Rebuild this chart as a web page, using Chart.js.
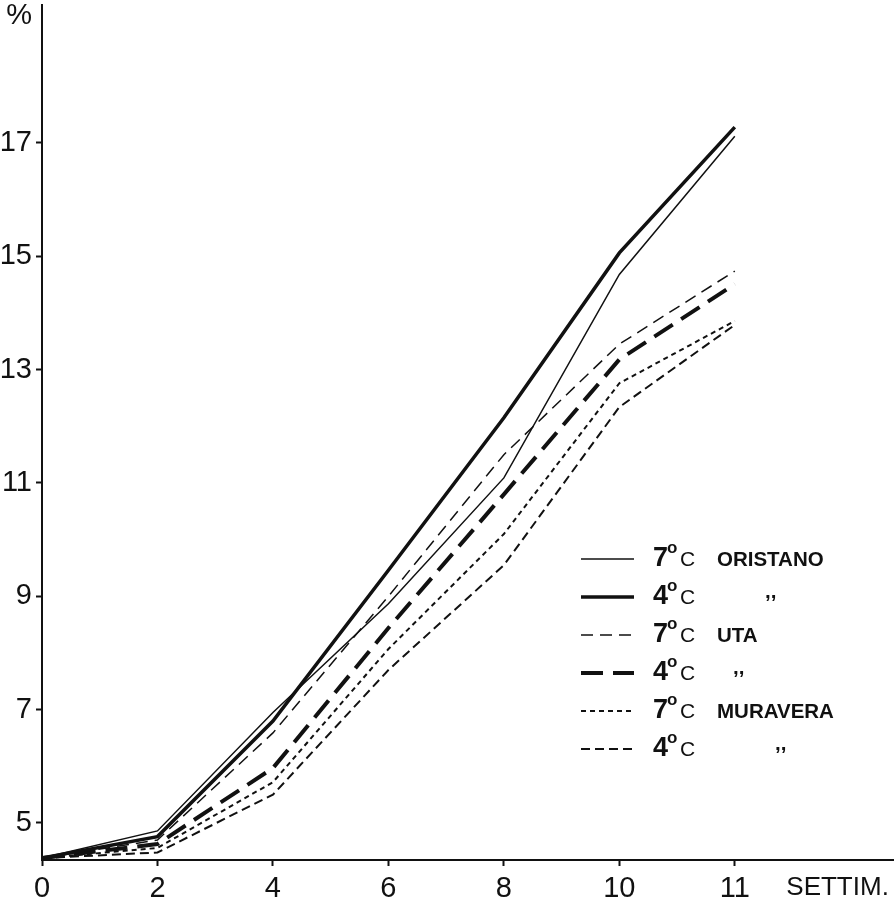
<!DOCTYPE html>
<html>
<head>
<meta charset="utf-8">
<script src="https://cdn.jsdelivr.net/npm/chart.js@4.4.1/dist/chart.umd.min.js"></script>
<style>
  html, body { margin: 0; padding: 0; background: #fff; }
  #wrap { width: 895px; height: 906px; }
</style>
</head>
<body>
<div id="wrap"><canvas id="chart"></canvas></div>
<script>
// week labels (equally spaced on the axis, as in the original)
const weeks = ['0', '2', '4', '6', '8', '10', '11'];
const yTicks = [5, 7, 9, 11, 13, 15, 17];

// % values
const oristano7 = [4.38, 4.86, 6.95, 8.87, 11.09, 14.68, 17.12];
const oristano4 = [4.38, 4.76, 6.80, 9.46, 12.15, 15.06, 17.28];
const uta7 = [4.38, 4.70, 6.59, 9.00, 11.50, 13.45, 14.74];
const uta4 = [4.38, 4.63, 5.97, 8.44, 10.80, 13.18, 14.51];
const muravera7 = [4.38, 4.56, 5.72, 8.07, 10.10, 12.76, 13.86];
const muravera4 = [4.38, 4.48, 5.50, 7.70, 9.55, 12.34, 13.79];

const temps = ['7', '4', '7', '4', '7', '4'];
const sites = ['ORISTANO', ',,', 'UTA', ',,', 'MURAVERA', ',,'];

const INK = '#111';
const FONT = "'Liberation Sans', Arial, Helvetica, sans-serif";

function toPoints(arr) {
    return arr.map((v, i) => ({ x: i, y: v }));
}

function makeSet(label, arr, width, dash) {
    return {
        label: label,
        data: toPoints(arr),
        borderColor: INK,
        borderWidth: width,
        borderDash: dash,
        pointRadius: 0,
        tension: 0,
        fill: false
    };
}

// legend drawn inside the plot, lower right
const sideLegend = {
    id: 'sideLegend',
    afterDraw(chart) {
        const ctx = chart.ctx;
        const dittoX = [0, 765, 0, 733, 0, 775];
        ctx.save();
        chart.data.datasets.forEach((ds, i) => {
            const y = 559 + i * 38;
            ctx.strokeStyle = INK;
            ctx.lineWidth = ds.borderWidth;
            ctx.setLineDash(ds.borderDash || []);
            ctx.beginPath();
            ctx.moveTo(581, y);
            ctx.lineTo(634, y);
            ctx.stroke();
            ctx.setLineDash([]);

            ctx.fillStyle = INK;
            ctx.textAlign = 'left';
            ctx.textBaseline = 'alphabetic';
            ctx.font = 'bold 27px ' + FONT;
            ctx.fillText(temps[i], 653, y + 7);
            ctx.font = 'bold 17px ' + FONT;
            ctx.fillText('o', 667, y - 6);
            ctx.font = '21px ' + FONT;
            ctx.fillText('C', 680, y + 7);
            ctx.font = 'bold 20.5px ' + FONT;
            if (sites[i] === ',,') {
                ctx.fillText(sites[i], dittoX[i], y + 1);
            } else {
                ctx.fillText(sites[i], 717, y + 7);
            }
        });
        ctx.restore();
    }
};

new Chart(document.getElementById('chart'), {
    type: 'line',
    data: {
        datasets: [
            makeSet('7° C ORISTANO', oristano7, 1.5, []),
            makeSet('4° C ORISTANO', oristano4, 3.5, []),
            makeSet('7° C UTA', uta7, 1.5, [12, 7]),
            makeSet('4° C UTA', uta4, 4, [22, 10]),
            makeSet('7° C MURAVERA', muravera7, 2, [5, 4]),
            makeSet('4° C MURAVERA', muravera4, 2, [9, 5])
        ]
    },
    options: {
        responsive: true,
        maintainAspectRatio: false,
        animation: false,
        layout: { padding: { top: 5, right: 2, left: 0, bottom: 0 } },
        plugins: {
            legend: { display: false },
            tooltip: { enabled: false }
        },
        scales: {
            x: {
                type: 'linear',
                min: 0,
                max: 7.37,
                afterBuildTicks: (s) => {
                    s.ticks = [0, 1, 2, 3, 4, 5, 6, 6.89].map(v => ({ value: v }));
                },
                afterFit: (s) => {
                    s.height = 46;
                    s.paddingLeft = 0;
                    s.paddingRight = 0;
                },
                ticks: {
                    autoSkip: false,
                    maxRotation: 0,
                    color: INK,
                    padding: 6,
                    font: (c) => ({ family: FONT, size: c.index === 7 ? 26 : 29 }),
                    callback: (v, i) => i < weeks.length ? weeks[i] : 'SETTIM.'
                },
                grid: {
                    drawOnChartArea: false,
                    tickLength: 6,
                    tickWidth: 2,
                    tickColor: (c) => c.index === 7 ? 'rgba(0,0,0,0)' : INK
                },
                border: { color: INK, width: 2 }
            },
            y: {
                min: 4.347,
                max: 19.435,
                afterBuildTicks: (s) => {
                    s.ticks = yTicks.concat([19.24]).map(v => ({ value: v }));
                },
                afterFit: (s) => {
                    s.width = 42;
                    s.paddingTop = 0;
                    s.paddingBottom = 0;
                },
                ticks: {
                    autoSkip: false,
                    color: INK,
                    padding: 4,
                    font: { family: FONT, size: 29 },
                    callback: (v, i) => i < yTicks.length ? String(yTicks[i]) : '%'
                },
                grid: {
                    drawOnChartArea: false,
                    tickLength: 6,
                    tickWidth: 2,
                    tickColor: (c) => c.index === yTicks.length ? 'rgba(0,0,0,0)' : INK
                },
                border: { color: INK, width: 2 }
            }
        }
    },
    plugins: [sideLegend]
});
</script>
</body>
</html>
